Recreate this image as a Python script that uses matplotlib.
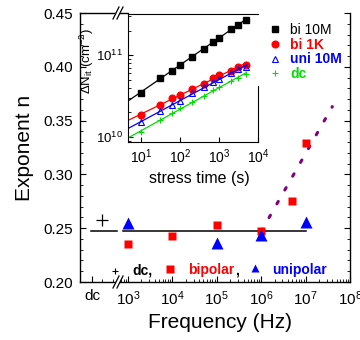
import numpy as np
import matplotlib
matplotlib.use("Agg")
import matplotlib.pyplot as plt
from matplotlib.ticker import FixedLocator, NullFormatter, LogLocator

plt.rcParams['font.family'] = ['Liberation Sans', 'DejaVu Sans']
plt.rcParams['mathtext.default'] = 'regular'

# main panel: exponent n vs stress frequency
dc_freq = [10 ** 2.42]          # position of the dc point on the broken axis
dc_n = [0.258]
bi_freq = [1e3, 1e4, 1e5, 1e6, 5e6, 1e7]
bi_n = [0.235, 0.243, 0.253, 0.247, 0.275, 0.329]
uni_freq = [1e3, 1e5, 1e6, 1e7]
uni_n = [0.255, 0.236, 0.244, 0.256]
n_mean = 0.247
trend_freq = [1e6, 4e7]
trend_n = [0.247, 0.363]
x_ticks = [10 ** 2.19, 1e3, 1e4, 1e5, 1e6, 1e7, 1e8]
x_labels = ['dc', '$10^3$', '$10^4$', '$10^5$', '$10^6$', '$10^7$', '$10^8$']

# inset: interface trap density vs stress time
t_s = [10, 30, 60, 100, 200, 400, 700, 1000, 2000, 3000, 5000]
nit_bi10M = [3.5e10, 5.3e10, 6.5e10, 7.6e10, 9.6e10, 1.21e11, 1.45e11,
             1.64e11, 2.08e11, 2.35e11, 2.72e11]
nit_bi1K = [1.85e10, 2.46e10, 3.0e10, 3.25e10, 3.9e10, 4.47e10, 5.3e10,
            5.8e10, 6.5e10, 7.1e10, 7.7e10]
nit_uni10M = [1.51e10, 2.08e10, 2.46e10, 2.75e10, 3.44e10, 4.07e10, 4.72e10,
              5.2e10, 6.03e10, 6.74e10, 7.14e10]
nit_dc = [1.16e10, 1.6e10, 1.96e10, 2.24e10, 2.65e10, 3.19e10, 3.72e10,
          4.07e10, 4.9e10, 5.3e10, 5.9e10]

GREEN = '#00dd00'
x_left = 10 ** 1.92

fig = plt.figure(figsize=(3.6, 3.4), dpi=100)
ax = fig.add_axes([80 / 360, 1 - 282 / 340, 270 / 360, 269 / 340])

ax.set_xscale('log')
ax.set_xlim(x_left, 1e8)
ax.set_ylim(0.20, 0.45)

# average line, broken at the axis break
ax.plot([10 ** 2.162, 10 ** 2.76], [n_mean, n_mean], color='black', lw=1.1)
ax.plot([10 ** 2.888, 1e7], [n_mean, n_mean], color='black', lw=1.1)
ax.plot(trend_freq, trend_n, color='#800080', lw=2.2, dashes=(0.9, 4.3),
        dash_capstyle='round')
ax.plot(dc_freq, dc_n, '+', color='black', ms=9, mew=0.9, zorder=4)
ax.plot(bi_freq, bi_n, 's', color='red', ms=6, mec='none', zorder=4)
ax.plot(uni_freq, uni_n, '^', color='blue', ms=8, mec='none', zorder=4)

# in-plot key
ax.plot([10 ** 2.71], [0.2105], '+', color='black', ms=5, mew=0.8)
ax.text(10 ** 3.09, 0.2105, 'dc,', color='black', fontsize=10,
        fontweight='bold', va='center', ha='left')
ax.plot([10 ** 3.944], [0.212], 's', color='red', ms=5.3, mec='none')
ax.text(10 ** 4.348, 0.2108, 'bipolar', color='red', fontsize=10,
        fontweight='bold', va='center', ha='left')
ax.text(10 ** 5.4, 0.2108, ',', color='black', fontsize=10,
        fontweight='bold', va='center', ha='left')
ax.plot([10 ** 5.87], [0.2128], '^', color='blue', ms=6, mec='none')
ax.text(10 ** 6.25, 0.2108, 'unipolar', color='blue', fontsize=10,
        fontweight='bold', va='center', ha='left')

ax.xaxis.set_major_locator(FixedLocator(x_ticks))
ax.set_xticklabels(x_labels)
minor_x = [10 ** 2.42, 10 ** 2.66]
for d in range(2, 8):
    for k in range(2, 10):
        if k * 10 ** d > 650:
            minor_x.append(k * 10 ** d)
ax.xaxis.set_minor_locator(FixedLocator(minor_x))
ax.xaxis.set_minor_formatter(NullFormatter())
ax.set_yticks([0.20, 0.25, 0.30, 0.35, 0.40, 0.45])
ax.set_yticks(np.arange(0.20, 0.451, 0.01), minor=True)
ax.tick_params(which='both', direction='in', right=True, top=False,
               labelsize=11)
ax.tick_params(which='major', length=4, width=0.8)
ax.tick_params(which='minor', length=2.5, width=0.6)
ax.tick_params(axis='x', pad=5)
ax.tick_params(axis='y', pad=5)
for sp in ax.spines.values():
    sp.set_linewidth(1.0)
ax.spines['top'].set_bounds(x_left, 1e3)

ax.set_xlabel('Frequency (Hz)', fontsize=15)
ax.xaxis.set_label_coords(0.52, -0.115)
ax.set_ylabel('Exponent n', fontsize=15)
ax.yaxis.set_label_coords(-0.17, 0.5)


def break_mark(yb):
    xb = (118 - 80) / 270
    dx, dy, sep = 3 / 270, 6 / 269, 4 / 270
    ax.plot([xb - dx, xb + dx], [yb - dy, yb + dy], transform=ax.transAxes,
            color='white', lw=2.6, clip_on=False, zorder=5)
    for s in (-sep / 2, sep / 2):
        ax.plot([xb + s - dx, xb + s + dx], [yb - dy, yb + dy],
                transform=ax.transAxes, color='black', lw=0.9,
                clip_on=False, zorder=6)


break_mark(0.0)
break_mark(1.0)

# inset
ins = fig.add_axes([128 / 360, 1 - 142 / 340, 130 / 360, 128 / 340])
ins.set_xscale('log')
ins.set_yscale('log')
ins.set_xlim(4.5, 1e4)
ins.set_ylim(8.7e9, 3.2e11)

series = [
    (nit_bi10M, 'black', 's', dict(ms=3.8), 'bi 10M'),
    (nit_bi1K, 'red', 'o', dict(ms=4.8), 'bi 1K'),
    (nit_uni10M, 'blue', '^', dict(ms=4.8, mfc='none', mew=0.8), 'uni 10M'),
    (nit_dc, GREEN, '+', dict(ms=5, mew=0.8), 'dc'),
]
t_fit = np.array([4.5, 5000])
for vals, col, mk, kw, lab in series:
    p = np.polyfit(np.log10(t_s), np.log10(vals), 1)
    ins.plot(t_fit, 10 ** np.polyval(p, np.log10(t_fit)), color=col, lw=0.9)
    ins.plot(t_s, vals, mk, color=col, ls='none', label=lab, **kw)

ins.xaxis.set_major_locator(FixedLocator([10, 100, 1000, 10000]))
ins.yaxis.set_major_locator(FixedLocator([1e10, 1e11]))
ins.xaxis.set_minor_locator(LogLocator(base=10, subs=np.arange(2, 10)))
ins.yaxis.set_minor_locator(LogLocator(base=10, subs=np.arange(2, 10)))
ins.xaxis.set_minor_formatter(NullFormatter())
ins.yaxis.set_minor_formatter(NullFormatter())
ins.tick_params(which='both', direction='in', top=False, right=False,
                labelsize=10)
ins.tick_params(axis='y', labelsize=9.5)
ins.tick_params(which='major', length=3.5, width=0.8, pad=4)
ins.tick_params(which='minor', length=2, width=0.6)
ins.spines['right'].set_bounds(8.7e9, 4.2e10)
ins.set_xlabel('stress time (s)', fontsize=11.5)
ins.xaxis.set_label_coords(0.546, -0.23)
ins.set_ylabel(r'$\Delta$N$_{it}$ (cm$^{-2}$)', fontsize=9.5)
ins.yaxis.set_label_coords(-0.245, 0.63)

leg = ins.legend(loc='upper left', bbox_to_anchor=(268 / 360, 1 - 23 / 340),
                 bbox_transform=fig.transFigure, frameon=False, fontsize=10,
                 handlelength=1.0, handletextpad=0.6, labelspacing=0.05,
                 borderpad=0, borderaxespad=0)
for txt, col, wt in zip(leg.get_texts(), ['black', 'red', 'blue', GREEN],
                        ['normal', 'bold', 'bold', 'bold']):
    txt.set_color(col)
    txt.set_fontweight(wt)

fig.savefig('out.png', dpi=100)
